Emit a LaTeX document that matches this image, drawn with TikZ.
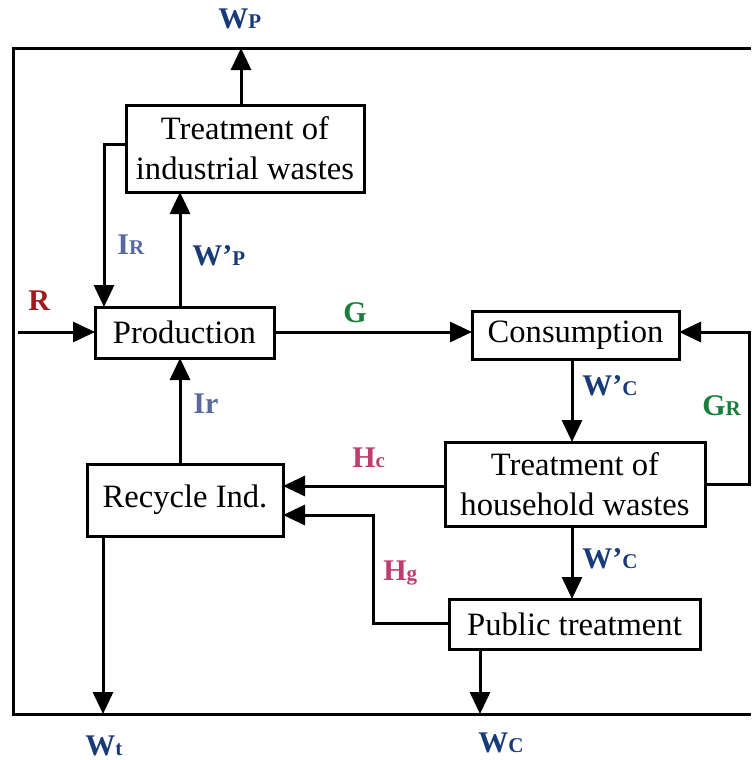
\documentclass[tikz,border=0pt]{standalone}
\usepackage{fontspec}
\setmainfont{Liberation Serif}
\usetikzlibrary{arrows.meta}
\definecolor{navyc}{RGB}{24,58,120}
\definecolor{slatec}{RGB}{88,104,160}
\definecolor{redc}{RGB}{160,25,30}
\definecolor{greenc}{RGB}{25,125,60}
\definecolor{magc}{RGB}{190,60,110}
\newcommand\lsub[1]{{\fontsize{10.5}{10.5}\selectfont #1}}
\begin{document}
\begin{tikzpicture}[x=0.5pt,y=-0.5pt,
  box/.style={draw, line width=1.5pt, inner sep=0pt, outer sep=0pt, align=center, font=\fontsize{16.3}{20}\selectfont},
  wire/.style={line width=1.5pt},
  arr/.style={wire, -{Triangle[length=11pt,width=10pt]}},
  lbl/.style={anchor=base west, inner sep=0pt, font=\fontsize{15}{15}\selectfont\bfseries}]
\useasboundingbox (0,0) rectangle (751,760);
% boxes
\node[box, minimum width=119pt, minimum height=43.5pt] (ind) at (245,148.5) {Treatment of\\industrial wastes};
\node[box, minimum width=89.5pt, minimum height=25.5pt] (prod) at (184.5,332.5) {Production};
\node[box, minimum width=103.5pt, minimum height=24pt] (cons) at (575.5,335) {Consumption};
\node[box, minimum width=130pt, minimum height=42pt] (hh) at (575,484) {Treatment of\\household wastes};
\node[box, minimum width=98pt, minimum height=36pt] (rec) at (185,500) {Recycle Ind.};
\node[box, minimum width=125.5pt, minimum height=25pt] (pub) at (574.5,624) {Public treatment};
% frame
\coordinate (ftl) at (13,48);
\coordinate (fbl) at (13,714);
\coordinate (ftr) at (751,48);
\coordinate (fbr) at (751,714);
\draw[wire] (ftr) -- (ftl) -- (fbl) -- (fbr);
% connectors
\coordinate (wpend) at (241,48);
\draw[arr] (ind.north -| wpend) -- (wpend);
\coordinate (irc) at (104,144);
\draw[arr] (ind.west |- irc) -- (irc) -- (irc |- prod.north);
\coordinate (wpx) at (180,0);
\draw[arr] (prod.north -| wpx) -- (ind.south -| wpx);
\coordinate (rs) at (18,332);
\draw[arr] (rs) -- (rs -| prod.west);
\draw[arr] (prod.east |- rs) -- (cons.west |- rs);
\coordinate (wcx) at (572,0);
\draw[arr] (cons.south -| wcx) -- (hh.north -| wcx);
\coordinate (grc) at (749,484);
\draw[arr] (hh.east |- grc) -- (grc) -- (grc |- rs) -- (cons.east |- rs);
\coordinate (hcy) at (0,486);
\draw[arr] (hh.west |- hcy) -- (rec.east |- hcy);
\coordinate (hgc) at (373,623);
\coordinate (hgy) at (373,515);
\draw[arr] (pub.west |- hgc) -- (hgc) -- (hgy) -- (rec.east |- hgy);
\draw[arr] (rec.north -| wpx) -- (prod.south -| wpx);
\draw[arr] (hh.south -| wcx) -- (pub.north -| wcx);
\coordinate (wt) at (103,714);
\draw[arr] (rec.south -| wt) -- (wt);
\coordinate (wc) at (480,714);
\draw[arr] (pub.south -| wc) -- (wc);
% labels
\node[lbl, text=navyc] (lwp) at (218,28) {W\lsub{P}};
\node[lbl, text=slatec] (lir) at (117,254) {I\lsub{R}};
\node[lbl, text=navyc] (lwpp) at (192,265) {W’\lsub{P}};
\node[lbl, text=redc] (lr) at (28,310) {R};
\node[lbl, text=greenc] (lg) at (343,322) {G};
\node[lbl, text=navyc] (lwc1) at (582,395) {W’\lsub{C}};
\node[lbl, text=greenc] (lgr) at (702,415) {G\lsub{R}};
\node[lbl, text=magc] (lhc) at (352,467) {H\lsub{c}};
\node[lbl, text=magc] (lhg) at (383,580) {H\lsub{g}};
\node[lbl, text=slatec] (lir2) at (193,413) {Ir};
\node[lbl, text=navyc] (lwc2) at (582,568) {W’\lsub{C}};
\node[lbl, text=navyc] (lwt) at (85,755) {W\lsub{t}};
\node[lbl, text=navyc] (lwc) at (478,752) {W\lsub{C}};
\end{tikzpicture}
\end{document}
